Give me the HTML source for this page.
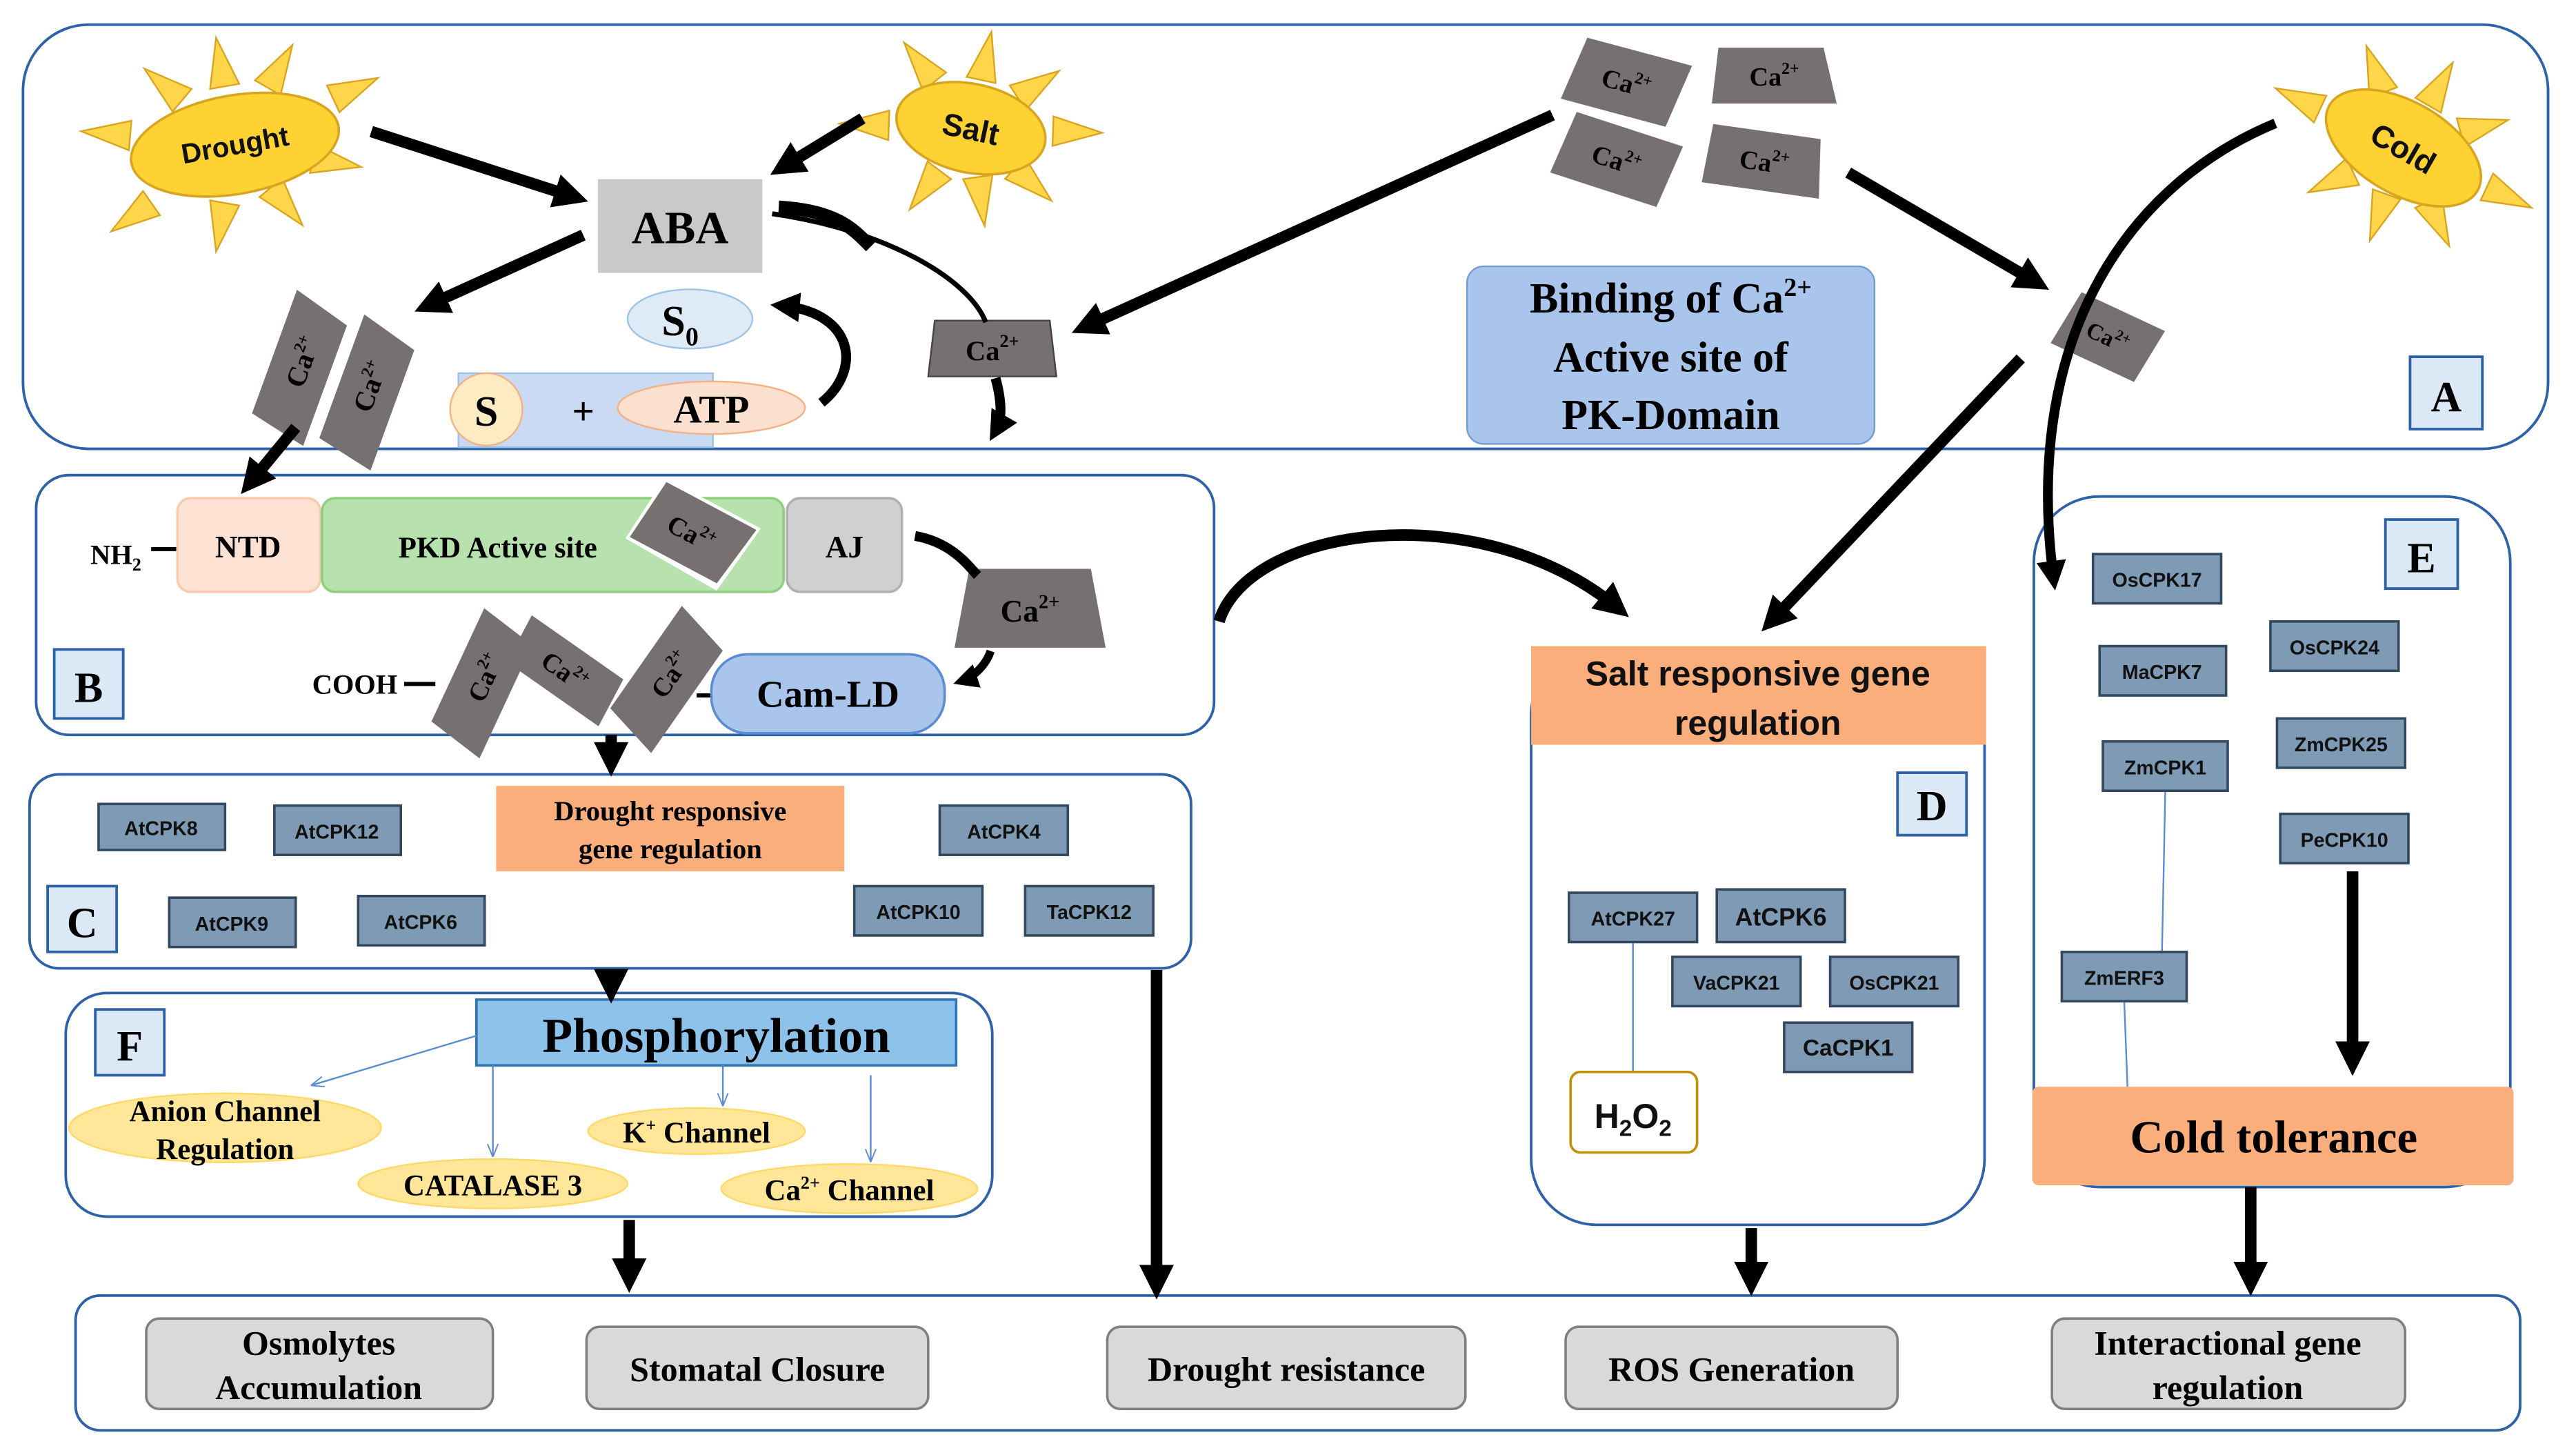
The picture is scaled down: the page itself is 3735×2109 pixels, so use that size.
<!DOCTYPE html>
<html><head><meta charset="utf-8"><style>html,body{margin:0;padding:0;background:#fff}svg{display:block}
.s{font-family:"Liberation Serif",serif;font-weight:bold}
.k{font-family:"Liberation Sans",sans-serif;font-weight:bold;font-size:12px;fill:#111}
.cpk{fill:#7f9ab5;stroke:#33475f;stroke-width:1.5}
.pn{fill:none;stroke:#2e62a8;stroke-width:1.6}
.lb{fill:#dbe9f7;stroke:#2e62a8;stroke-width:1.6}
.ca{fill:#767070}
.ar{stroke:#000;fill:none}
</style></head><body>
<svg width="3735" height="2109" viewBox="0 0 1568 885" preserveAspectRatio="none" xmlns="http://www.w3.org/2000/svg">
<defs>
<marker id="m" viewBox="0 0 10 10" refX="6" refY="5" markerWidth="3" markerHeight="3" orient="auto"><path d="M0,0 L10,5 L0,10 Z" fill="#000"/></marker>
<marker id="mb" viewBox="0 0 10 10" refX="9" refY="5" markerWidth="8" markerHeight="8" orient="auto"><path d="M0,1 L10,5 L0,9" fill="none" stroke="#5b8bd0" stroke-width="1"/></marker>
<polygon id="ray" points="-9,0 9,0 0,-30" fill="#ffd54a" stroke="#d9a520" stroke-width="1"/>
</defs>
<!-- panels -->
<rect class="pn" x="14" y="15" width="1537" height="258" rx="40"/>
<rect class="pn" x="22" y="289" width="717" height="158" rx="20"/>
<rect class="pn" x="18" y="471" width="707" height="118" rx="18"/>
<rect class="pn" x="40" y="604" width="564" height="136" rx="25"/>
<rect class="pn" x="932" y="395" width="276" height="350" rx="40"/>
<rect class="pn" x="1238" y="302" width="290" height="420" rx="40"/>
<rect class="pn" x="46" y="788" width="1488" height="82" rx="15"/>

<!-- Drought sun -->
<g transform="translate(143,88)">
<g transform="rotate(-10)">
<use href="#ray" transform="rotate(0) translate(0,-36)"/><use href="#ray" transform="rotate(40) translate(0,-40)"/>
<use href="#ray" transform="rotate(75) translate(0,-66)"/><use href="#ray" transform="rotate(110) translate(0,-48)"/>
<use href="#ray" transform="rotate(150) translate(0,-34)"/><use href="#ray" transform="rotate(200) translate(0,-36)"/>
<use href="#ray" transform="rotate(245) translate(0,-62)"/><use href="#ray" transform="rotate(285) translate(0,-64)"/>
<use href="#ray" transform="rotate(320) translate(0,-42)"/>
<ellipse rx="64" ry="30" fill="#ffd233" stroke="#d9a520" stroke-width="1.5"/>
<text class="k" x="0" y="6" text-anchor="middle" style="font-size:17px">Drought</text></g></g>
<!-- Salt sun -->
<g transform="translate(591,78)">
<g transform="rotate(12)">
<use href="#ray" transform="rotate(0) translate(0,-30)"/><use href="#ray" transform="rotate(45) translate(0,-34)"/>
<use href="#ray" transform="rotate(80) translate(0,-50)"/><use href="#ray" transform="rotate(120) translate(0,-36)"/>
<use href="#ray" transform="rotate(160) translate(0,-30)"/><use href="#ray" transform="rotate(205) translate(0,-32)"/>
<use href="#ray" transform="rotate(260) translate(0,-50)"/><use href="#ray" transform="rotate(310) translate(0,-36)"/>
<ellipse rx="46" ry="27" fill="#ffd233" stroke="#d9a520" stroke-width="1.5"/>
<text class="k" x="0" y="7" text-anchor="middle" style="font-size:19px">Salt</text></g></g>
<!-- Cold sun -->
<g transform="translate(1463,90)">
<g transform="rotate(30)">
<use href="#ray" transform="rotate(0) translate(0,-30)"/><use href="#ray" transform="rotate(45) translate(0,-36)"/>
<use href="#ray" transform="rotate(85) translate(0,-56)"/><use href="#ray" transform="rotate(125) translate(0,-36)"/>
<use href="#ray" transform="rotate(170) translate(0,-30)"/><use href="#ray" transform="rotate(215) translate(0,-34)"/>
<use href="#ray" transform="rotate(265) translate(0,-56)"/><use href="#ray" transform="rotate(310) translate(0,-36)"/>
<ellipse rx="52" ry="28" fill="#ffd233" stroke="#d9a520" stroke-width="1.5"/>
<text class="k" x="0" y="7" text-anchor="middle" style="font-size:19px">Cold</text></g></g>

<!-- ABA etc -->
<rect x="364" y="109" width="100" height="57" fill="#c9c9c9"/>
<text class="s" x="414" y="148" text-anchor="middle" font-size="28">ABA</text>
<ellipse cx="420" cy="194" rx="38" ry="18" fill="#deebf7" stroke="#9dc3e6"/>
<text class="s" x="414" y="204" text-anchor="middle" font-size="26">S<tspan font-size="16" dy="6">0</tspan></text>
<rect x="279" y="227" width="155" height="45" fill="#c9daf2" stroke="#9dc3e6"/>
<ellipse cx="296" cy="249" rx="22" ry="22" fill="#fdebc4" stroke="#f4b183"/>
<text class="s" x="296" y="259" text-anchor="middle" font-size="26">S</text>
<text class="s" x="355" y="258" text-anchor="middle" font-size="24">+</text>
<ellipse cx="433" cy="248" rx="57" ry="16" fill="#fbe0d0" stroke="#f4b183"/>
<text class="s" x="433" y="257" text-anchor="middle" font-size="24">ATP</text>

<!-- Ca shapes top -->
<g transform="translate(990,50) rotate(15)"><polygon class="ca" points="-30,-20 36,-20 30,20 -36,20"/><text class="s" x="0" y="6" text-anchor="middle" font-size="16">Ca<tspan font-size="10" dy="-7">2+</tspan></text></g>
<g transform="translate(1080,46)"><polygon class="ca" points="-34,-17 30,-17 38,17 -38,17"/><text class="s" x="0" y="6" text-anchor="middle" font-size="16">Ca<tspan font-size="10" dy="-7">2+</tspan></text></g>
<g transform="translate(984,97) rotate(18)"><polygon class="ca" points="-32,-20 36,-20 32,20 -36,20"/><text class="s" x="0" y="6" text-anchor="middle" font-size="16">Ca<tspan font-size="10" dy="-7">2+</tspan></text></g>
<g transform="translate(1074,98) rotate(8)"><polygon class="ca" points="-34,-18 32,-18 36,18 -36,18"/><text class="s" x="0" y="6" text-anchor="middle" font-size="16">Ca<tspan font-size="10" dy="-7">2+</tspan></text></g>
<g transform="translate(1283,205) rotate(25)"><polygon class="ca" points="-26,-18 30,-18 26,18 -30,18"/><text class="s" x="0" y="5" text-anchor="middle" font-size="14">Ca<tspan font-size="9" dy="-6">2+</tspan></text></g>
<g transform="translate(604,212)"><polygon class="ca" points="-35,-17 35,-17 39,17 -39,17" stroke="#444"/><text class="s" x="0" y="7" text-anchor="middle" font-size="17">Ca<tspan font-size="11" dy="-8">2+</tspan></text></g>
<g transform="translate(184,220) rotate(-70)"><polygon class="ca" points="-40,-18 40,-18 30,18 -48,18"/><text class="s" x="0" y="6" text-anchor="middle" font-size="17">Ca<tspan font-size="10" dy="-7">2+</tspan></text></g>
<g transform="translate(225,235) rotate(-70)"><polygon class="ca" points="-40,-18 40,-18 30,18 -48,18"/><text class="s" x="0" y="6" text-anchor="middle" font-size="17">Ca<tspan font-size="10" dy="-7">2+</tspan></text></g>

<!-- Binding box -->
<rect x="893" y="162" width="248" height="108" rx="10" fill="#aac5ec" stroke="#6f9bd6"/>
<text class="s" x="1017" y="190" text-anchor="middle" font-size="26">Binding of Ca<tspan font-size="16" dy="-10">2+</tspan></text>
<text class="s" x="1017" y="226" text-anchor="middle" font-size="26">Active site of</text>
<text class="s" x="1017" y="261" text-anchor="middle" font-size="26">PK-Domain</text>
<rect class="lb" x="1467" y="217" width="44" height="44"/><text class="s" x="1489" y="250" text-anchor="middle" font-size="26">A</text>

<!-- B panel -->
<text class="s" x="55" y="343" font-size="17" font-weight="normal">NH<tspan font-size="11" dy="4">2</tspan></text><line x1="92" y1="334" x2="108" y2="334" stroke="#000" stroke-width="2.5"/>
<rect x="108" y="303" width="87" height="57" rx="8" fill="#fde1d3" stroke="#f8cbad" stroke-width="1.5"/>
<text class="s" x="151" y="339" text-anchor="middle" font-size="19">NTD</text>
<rect x="196" y="303" width="281" height="57" rx="8" fill="#b7e1ad" stroke="#90cf7e" stroke-width="1.5"/>
<text class="s" x="303" y="339" text-anchor="middle" font-size="18">PKD Active site</text>
<g transform="translate(421,324) rotate(28)"><polygon points="-30,-22 36,-22 30,24 -34,22" fill="#fff"/><polygon class="ca" points="-28,-20 34,-20 28,20 -32,20"/><text class="s" x="0" y="6" text-anchor="middle" font-size="16">Ca<tspan font-size="10" dy="-7">2+</tspan></text></g>
<rect x="479" y="303" width="70" height="57" rx="8" fill="#d0d0d0" stroke="#b0b0b0" stroke-width="1.5"/>
<text class="s" x="514" y="339" text-anchor="middle" font-size="19">AJ</text>
<g transform="translate(627,370)"><polygon class="ca" points="-37,-24 37,-24 46,24 -46,24"/><text class="s" x="0" y="8" text-anchor="middle" font-size="19">Ca<tspan font-size="12" dy="-8">2+</tspan></text></g>
<text class="s" x="190" y="422" font-size="17" font-weight="normal">COOH</text><line x1="246" y1="416" x2="265" y2="416" stroke="#000" stroke-width="2.5"/>
<g transform="translate(295,412) rotate(-65)"><polygon class="ca" points="-38,-18 38,-18 30,18 -46,18"/><text class="s" x="0" y="6" text-anchor="middle" font-size="16">Ca<tspan font-size="10" dy="-7">2+</tspan></text></g>
<g transform="translate(344,408) rotate(35)"><polygon class="ca" points="-36,-16 32,-16 36,16 -32,16"/><text class="s" x="0" y="6" text-anchor="middle" font-size="16">Ca<tspan font-size="10" dy="-7">2+</tspan></text></g>
<g transform="translate(408,410) rotate(-55)"><polygon class="ca" points="-38,-18 38,-18 30,18 -46,18"/><text class="s" x="0" y="6" text-anchor="middle" font-size="16">Ca<tspan font-size="10" dy="-7">2+</tspan></text></g>
<line x1="424" y1="423" x2="434" y2="423" stroke="#000" stroke-width="2.5"/>
<rect x="433" y="398" width="142" height="48" rx="22" fill="#aac5ec" stroke="#5b8bd0" stroke-width="1.5"/>
<text class="s" x="504" y="430" text-anchor="middle" font-size="23">Cam-LD</text>
<rect class="lb" x="33" y="395" width="42" height="42"/><text class="s" x="54" y="427" text-anchor="middle" font-size="26">B</text>

<!-- C panel -->
<rect class="cpk" x="60" y="489" width="77" height="28"/><text class="k" x="98" y="508" text-anchor="middle">AtCPK8</text>
<rect class="cpk" x="167" y="490" width="77" height="30"/><text class="k" x="205" y="510" text-anchor="middle">AtCPK12</text>
<rect class="cpk" x="103" y="546" width="77" height="30"/><text class="k" x="141" y="566" text-anchor="middle">AtCPK9</text>
<rect class="cpk" x="218" y="545" width="77" height="30"/><text class="k" x="256" y="565" text-anchor="middle">AtCPK6</text>
<rect class="cpk" x="572" y="490" width="78" height="30"/><text class="k" x="611" y="510" text-anchor="middle">AtCPK4</text>
<rect class="cpk" x="520" y="539" width="78" height="30"/><text class="k" x="559" y="559" text-anchor="middle">AtCPK10</text>
<rect class="cpk" x="624" y="539" width="78" height="30"/><text class="k" x="663" y="559" text-anchor="middle">TaCPK12</text>
<rect x="302" y="478" width="212" height="52" fill="#f9ae7c"/>
<text class="s" x="408" y="499" text-anchor="middle" font-size="17">Drought responsive</text>
<text class="s" x="408" y="522" text-anchor="middle" font-size="17">gene regulation</text>
<rect class="lb" x="29" y="539" width="42" height="40"/><text class="s" x="50" y="570" text-anchor="middle" font-size="26">C</text>

<!-- F panel -->
<rect x="290" y="608" width="292" height="40" fill="#8dc3eb" stroke="#2e75b6" stroke-width="1.5"/>
<text class="s" x="436" y="640" text-anchor="middle" font-size="30">Phosphorylation</text>
<rect class="lb" x="58" y="614" width="42" height="40"/><text class="s" x="79" y="645" text-anchor="middle" font-size="26">F</text>
<g stroke="#5b8bd0" stroke-width="1" fill="none">
<line x1="290" y1="630" x2="190" y2="660" marker-end="url(#mb)"/>
<line x1="300" y1="648" x2="300" y2="703" marker-end="url(#mb)"/>
<line x1="440" y1="648" x2="440" y2="672" marker-end="url(#mb)"/>
<line x1="530" y1="654" x2="530" y2="706" marker-end="url(#mb)"/>
</g>
<ellipse cx="137" cy="686" rx="95" ry="21" fill="#ffe699" stroke="#ffd966"/>
<text class="s" x="137" y="682" text-anchor="middle" font-size="18" font-weight="normal">Anion Channel</text>
<text class="s" x="137" y="705" text-anchor="middle" font-size="18" font-weight="normal">Regulation</text>
<ellipse cx="300" cy="720" rx="82" ry="15" fill="#ffe699" stroke="#ffd966"/>
<text class="s" x="300" y="727" text-anchor="middle" font-size="18" font-weight="normal">CATALASE 3</text>
<ellipse cx="424" cy="688" rx="66" ry="14" fill="#ffe699" stroke="#ffd966"/>
<text class="s" x="424" y="695" text-anchor="middle" font-size="18" font-weight="normal">K<tspan font-size="11" dy="-7">+</tspan><tspan dy="7"> Channel</tspan></text>
<ellipse cx="517" cy="723" rx="78" ry="15" fill="#ffe699" stroke="#ffd966"/>
<text class="s" x="517" y="730" text-anchor="middle" font-size="18" font-weight="normal">Ca<tspan font-size="11" dy="-7">2+</tspan><tspan dy="7"> Channel</tspan></text>

<!-- D panel -->
<rect x="932" y="393" width="277" height="60" fill="#f9ae7c"/>
<text class="k" x="1070" y="417" text-anchor="middle" style="font-size:21px">Salt responsive gene</text>
<text class="k" x="1070" y="447" text-anchor="middle" style="font-size:21px">regulation</text>
<rect class="lb" x="1155" y="470" width="42" height="38"/><text class="s" x="1176" y="499" text-anchor="middle" font-size="26">D</text>
<line x1="994" y1="573" x2="994" y2="652" stroke="#5b8bd0"/>
<rect class="cpk" x="955" y="543" width="78" height="30"/><text class="k" x="994" y="563" text-anchor="middle">AtCPK27</text>
<rect class="cpk" x="1045" y="541" width="78" height="32"/><text class="k" x="1084" y="563" text-anchor="middle" style="font-size:15px">AtCPK6</text>
<rect class="cpk" x="1018" y="582" width="78" height="30"/><text class="k" x="1057" y="602" text-anchor="middle">VaCPK21</text>
<rect class="cpk" x="1114" y="582" width="78" height="30"/><text class="k" x="1153" y="602" text-anchor="middle">OsCPK21</text>
<rect class="cpk" x="1086" y="622" width="78" height="30"/><text class="k" x="1125" y="642" text-anchor="middle" style="font-size:14px">CaCPK1</text>
<rect x="956" y="652" width="77" height="49" rx="6" fill="#fff" stroke="#bf9000" stroke-width="1.5"/>
<text class="k" x="994" y="686" text-anchor="middle" style="font-size:21px">H<tspan style="font-size:14px" dy="5">2</tspan><tspan dy="-5">O</tspan><tspan style="font-size:14px" dy="5">2</tspan></text>

<!-- E panel -->
<rect class="lb" x="1452" y="316" width="44" height="42"/><text class="s" x="1474" y="348" text-anchor="middle" font-size="26">E</text>
<line x1="1318" y1="481" x2="1316" y2="579" stroke="#5b8bd0"/>
<line x1="1293" y1="609" x2="1295" y2="661" stroke="#5b8bd0"/>
<rect class="cpk" x="1274" y="337" width="78" height="30"/><text class="k" x="1313" y="357" text-anchor="middle">OsCPK17</text>
<rect class="cpk" x="1278" y="393" width="77" height="30"/><text class="k" x="1316" y="413" text-anchor="middle">MaCPK7</text>
<rect class="cpk" x="1382" y="378" width="78" height="30"/><text class="k" x="1421" y="398" text-anchor="middle">OsCPK24</text>
<rect class="cpk" x="1280" y="451" width="76" height="30"/><text class="k" x="1318" y="471" text-anchor="middle">ZmCPK1</text>
<rect class="cpk" x="1386" y="437" width="78" height="30"/><text class="k" x="1425" y="457" text-anchor="middle">ZmCPK25</text>
<rect class="cpk" x="1388" y="495" width="78" height="30"/><text class="k" x="1427" y="515" text-anchor="middle">PeCPK10</text>
<rect class="cpk" x="1255" y="579" width="76" height="30"/><text class="k" x="1293" y="599" text-anchor="middle">ZmERF3</text>
<rect x="1237" y="661" width="293" height="60" rx="4" fill="#f9ae7c"/>
<text class="s" x="1384" y="701" text-anchor="middle" font-size="28">Cold tolerance</text>

<!-- bottom -->
<g fill="#d9d9d9" stroke="#7f7f7f" stroke-width="1.5">
<rect x="89" y="802" width="211" height="55" rx="8"/><rect x="357" y="807" width="208" height="50" rx="8"/>
<rect x="674" y="807" width="218" height="50" rx="8"/><rect x="953" y="807" width="202" height="50" rx="8"/>
<rect x="1249" y="802" width="215" height="55" rx="8"/></g>
<g class="s" font-size="21" text-anchor="middle">
<text x="194" y="824">Osmolytes</text><text x="194" y="851">Accumulation</text>
<text x="461" y="840">Stomatal Closure</text>
<text x="783" y="840">Drought resistance</text>
<text x="1054" y="840">ROS Generation</text>
<text x="1356" y="824">Interactional gene</text><text x="1356" y="851">regulation</text></g>

<!-- arrows -->
<g class="ar" stroke-width="7" marker-end="url(#m)">
<line x1="226" y1="80" x2="350" y2="120"/>
<line x1="525" y1="72" x2="476" y2="102"/>
<line x1="355" y1="143" x2="260" y2="186"/>
<line x1="180" y1="260" x2="152" y2="294"/>
<line x1="945" y1="70" x2="660" y2="199"/>
<line x1="1125" y1="105" x2="1240" y2="172"/>
<line x1="1230" y1="218" x2="1078" y2="378"/>
<line x1="372" y1="447" x2="372" y2="464"/>
<line x1="372" y1="590" x2="372" y2="602"/>
<line x1="383" y1="742" x2="383" y2="778"/>
<line x1="704" y1="590" x2="704" y2="782"/>
<line x1="1066" y1="747" x2="1066" y2="780"/>
<line x1="1370" y1="722" x2="1370" y2="780"/>
<line x1="1432" y1="530" x2="1432" y2="646"/>
<path d="M470,130 C540,140 590,170 600,196" stroke-width="3" marker-end="none"/>
<path d="M474,126 C510,128 520,140 530,150" stroke-width="8" marker-end="none"/>
<path d="M606,230 C610,245 610,255 606,262" stroke-width="6"/>
<path d="M500,245 C525,225 520,190 476,186" stroke-width="6"/>
<path d="M1385,75 C1300,110 1230,200 1250,352" stroke-width="6"/>
<path d="M742,378 C760,320 900,300 985,370" stroke-width="7"/>
<path d="M557,326 C580,330 590,345 595,350" stroke-width="6" marker-end="none"/>
<path d="M603,396 C600,405 592,412 586,414" stroke-width="5"/>
</g>
</svg>
</body></html>
